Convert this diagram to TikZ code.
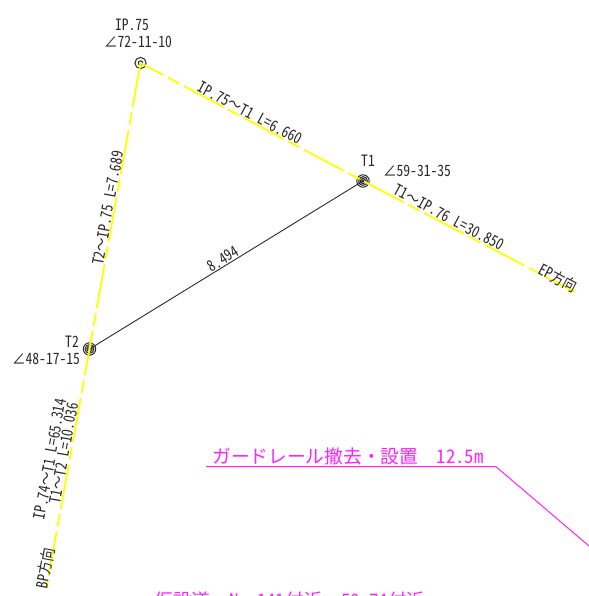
\documentclass[tikz,border=0pt]{standalone}
\usepackage{fontspec}
\newfontfamily\cad[RawFeature=+hwid]{Noto Sans CJK JP}
\newfontfamily\cadfull{Noto Sans CJK JP}
\newcommand{\wv}{{\cadfull 〜}}
\newcommand{\sq}[1]{\scalebox{.87}[1]{#1}}
\definecolor{cadyellow}{HTML}{FFFF00}
\definecolor{cadmagenta}{HTML}{FF22FF}
\definecolor{cadink}{HTML}{2A2A2A}
\tikzset{
  lbl/.style={inner sep=0pt,text=cadink,font=\cad\fontsize{15.6bp}{16bp}\selectfont},
  mag/.style={inner sep=0pt,text=cadmagenta,font=\cad\fontsize{18.7bp}{19bp}\selectfont},
  roadline/.style={cadyellow,line width=1.8bp,dash pattern=on 45bp off 5bp on 13bp off 5bp},
  ringline/.style={cadink,line width=1bp},
  leader/.style={cadmagenta,line width=1bp}
}
\begin{document}
\begin{tikzpicture}[x=1bp,y=-1bp]
\useasboundingbox (0,0) rectangle (589,596);
\clip (0,0) rectangle (589,596);
\coordinate (IP) at (140.5,63);
\coordinate (T1) at (363,181);
\coordinate (T2) at (89.5,349);
\coordinate (EP) at (575,292);
\coordinate (BP) at (46.5,588);
\coordinate (GA) at (206,466.7);
\coordinate (GB) at (496,466.7);
\coordinate (GC) at (589,546);
% survey points
\draw[ringline] (IP) circle (5.6) circle (2.2);
\draw[ringline] (T1) circle (6.2) circle (4.4) circle (2.6) circle (1);
\draw[ringline] (T2) circle (6.2) circle (4.4) circle (2.6) circle (1);
% chord
\draw[cadink,line width=0.9bp] (T2) -- (T1);
% road centre lines
\draw[roadline,dash phase=19bp] (IP) -- (T1) -- (EP);
\draw[roadline] (IP) -- (T2) -- (BP);
% leader
\draw[leader] (GA) -- (GB) -- (GC);
% labels
\node[lbl] (n1) at (132,25) {\sq{IP.75}};
\node[lbl] (n2) at (138,42) {\sq{∠72-11-10}};
\node[lbl] (n3) at (368,161) {\sq{T1}};
\node[lbl] (n4) at (417,171) {\sq{∠59-31-35}};
\node[lbl] (n5) at (72,342) {\sq{T2}};
\node[lbl] (n6) at (46,359) {\sq{∠48-17-15}};
\node[lbl,rotate=-28] (n7) at (250.5,113) {\sq{IP.75\wv T1 L=6.660}};
\node[lbl,rotate=-28] (n8) at (449,217.5) {\sq{T1\wv IP.76 L=30.850}};
\node[lbl,rotate=-28] (n9) at (558.5,278) {\sq{EP方向}};
\node[lbl,rotate=79.8] (n10) at (108,208) {\sq{T2\wv IP.75 L=7.689}};
\node[lbl,rotate=31.5] (n11) at (223,259) {\sq{8.494}};
\node[lbl,rotate=79.8] (n12) at (50,459) {\sq{IP.74\wv T1 L=65.314}};
\node[lbl,rotate=79.8] (n13) at (64,453) {\sq{T1\wv T2 L=10.036}};
\node[lbl,rotate=79.8] (n14) at (45,568) {\sq{BP方向}};
\node[mag] (n15) at (348,456.5) {ガードレール撤去・設置\hspace{18.7bp}12.5m};
\node[mag] (n16) at (290,600) {仮設道\hspace{18.7bp}No.141付近\hspace{18.7bp}50.74付近};
\end{tikzpicture}
\end{document}
